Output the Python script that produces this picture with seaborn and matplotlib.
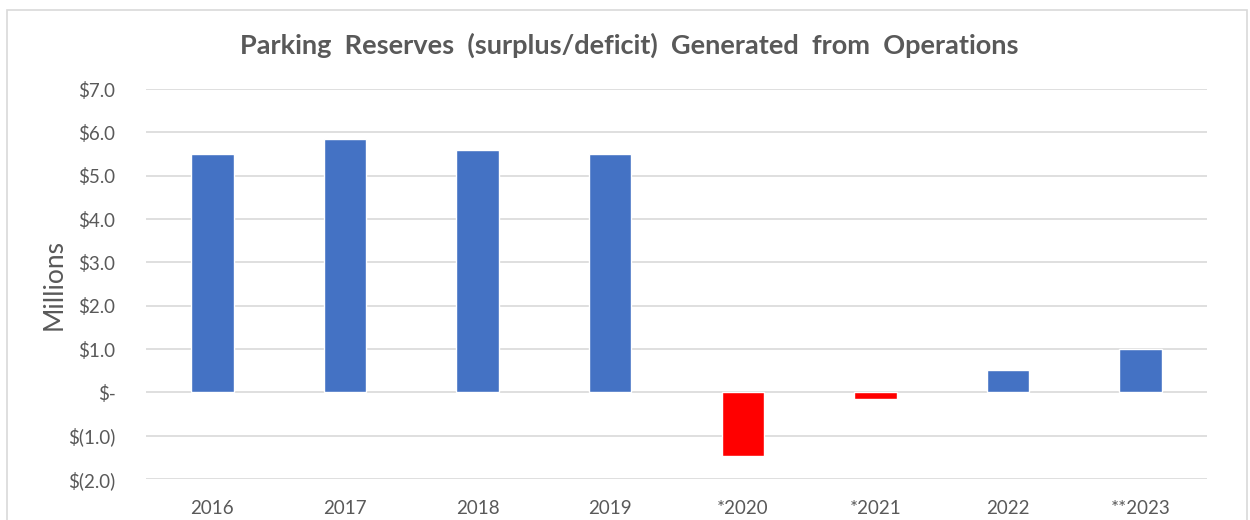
import matplotlib
matplotlib.use('Agg')
import matplotlib.pyplot as plt
import seaborn as sns
import pandas as pd
from matplotlib.ticker import FuncFormatter, MultipleLocator
from matplotlib.patches import Rectangle

# Veriler (milyon $)
yillar = ['2016', '2017', '2018', '2019', '*2020', '*2021', '2022', '**2023']
rezerv = [5.5, 5.85, 5.6, 5.5, -1.48, -0.15, 0.52, 1.0]

mavi = '#4472C4'
kirmizi = '#FF0000'
gri_yazi = '#595959'
renkler = [mavi if v >= 0 else kirmizi for v in rezerv]

sns.set_theme(style='white')
plt.rcParams['font.family'] = ['Lato', 'DejaVu Sans']

df = pd.DataFrame({'yil': yillar, 'deger': rezerv})

fig = plt.figure(figsize=(12.5, 5.2), dpi=100)
ax = fig.add_axes([0.1168, 0.0788, 0.8488, 0.75])

sns.barplot(data=df, x='yil', y='deger', hue='yil', palette=renkler,
            legend=False, width=0.32, saturation=1, ax=ax, zorder=3)

ax.set_ylim(-2, 7)
ax.yaxis.set_major_locator(MultipleLocator(1))
ax.set_xlim(-0.5, len(yillar) - 0.5)


def muhasebe(v, pos):
    if abs(v) < 1e-9:
        return '$-'
    if v < 0:
        return f'$({abs(v):.1f})'
    return f'${v:.1f}'


ax.yaxis.set_major_formatter(FuncFormatter(muhasebe))
ax.grid(axis='y', color='#D9D9D9', linewidth=1.2, zorder=0)
ax.grid(axis='x', visible=False)
for s in ax.spines.values():
    s.set_visible(False)

ax.tick_params(axis='both', length=0, labelsize=13.5, labelcolor=gri_yazi)
ax.tick_params(axis='y', pad=22)
ax.tick_params(axis='x', pad=15)
ax.set_xlabel('')
ax.set_ylabel('Millions', fontsize=19, color=gri_yazi, labelpad=1)

fig.text(0.503, 0.912, 'Parking  Reserves  (surplus/deficit)  Generated  from  Operations',
         ha='center', va='center', fontsize=19.5, fontweight='bold', color=gri_yazi)

# Dış çerçeve
fig.patches.append(Rectangle((7 / 1250, -0.05), 1240 / 1250, 1.05 - 10 / 520,
                             transform=fig.transFigure, fill=False,
                             edgecolor='#D9D9D9', linewidth=1.2))

fig.savefig('out.png', dpi=100)
